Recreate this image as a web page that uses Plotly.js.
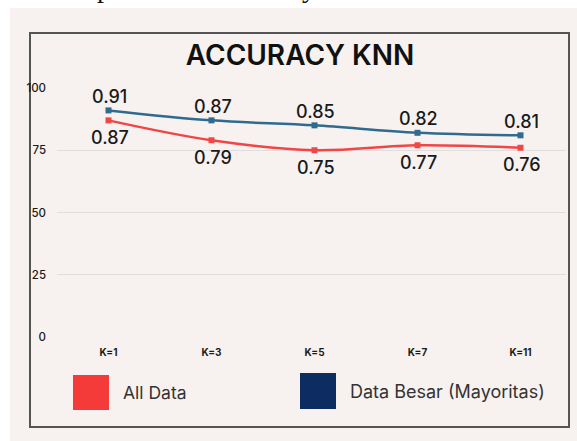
<!DOCTYPE html>
<html>
<head>
<meta charset="utf-8">
<script src="https://cdn.plot.ly/plotly-3.0.1.min.js"></script>
<style>html,body{margin:0;padding:0;background:#fff;}#chart{width:577px;height:441px;}</style>
</head>
<body>
<div id="chart"></div>
<script>
const categories = ["K=1", "K=3", "K=5", "K=7", "K=11"];
const allData = [87, 79, 75, 77, 76];
const dataBesar = [91, 87, 85, 82, 81];
const allDataLabels = ["0.87", "0.79", "0.75", "0.77", "0.76"];
const dataBesarLabels = ["0.91", "0.87", "0.85", "0.82", "0.81"];
const yTicks = [0, 25, 50, 75, 100];
const legendNames = ["All Data", "Data Besar (Mayoritas)"];

const W = 577, H = 441;
const L = 57, R = 566, T = 88, B = 337;
const px = x => (x - L) / (R - L);
const py = y => (B - y) / (B - T);

const FONT = "Inter, 'Open Sans', sans-serif";
const labelFont = {family: FONT, size: 18, color: "#1a1a1a", weight: 500};

const traces = [
  {
    x: categories, y: allData, type: "scatter", mode: "lines+markers",
    line: {color: "#f04648", width: 2.5, shape: "spline", smoothing: 1},
    marker: {symbol: "square", size: 6, color: "#f04648"},
    name: legendNames[0], hoverinfo: "skip", cliponaxis: false
  },
  {
    x: categories, y: dataBesar, type: "scatter", mode: "lines+markers",
    line: {color: "#306b8f", width: 2.5, shape: "spline", smoothing: 1},
    marker: {symbol: "square", size: 6, color: "#306b8f"},
    name: legendNames[1], hoverinfo: "skip", cliponaxis: false
  }
];

const valueAnnotations = [];
categories.forEach((c, i) => {
  valueAnnotations.push({x: c, y: dataBesar[i], xref: "x", yref: "y", text: dataBesarLabels[i],
    showarrow: false, xanchor: "center", yanchor: "middle", yshift: 14, xshift: 1, font: labelFont});
  valueAnnotations.push({x: c, y: allData[i], xref: "x", yref: "y", text: allDataLabels[i],
    showarrow: false, xanchor: "center", yanchor: "middle", yshift: -17, xshift: 1, font: labelFont});
});

const layout = {
  width: W, height: H,
  margin: {l: L, r: W - R, t: T, b: H - B, pad: 0},
  paper_bgcolor: "#ffffff",
  plot_bgcolor: "rgba(0,0,0,0)",
  showlegend: false,
  font: {family: FONT, color: "#222"},
  title: {
    text: "ACCURACY KNN",
    font: {family: "Inter, Roboto, sans-serif", size: 28, color: "#111", weight: 600},
    x: 300 / W, xanchor: "center", y: 1 - 55 / H, yanchor: "middle", xref: "container", yref: "container"
  },
  xaxis: {
    type: "category", range: [-0.5, -0.5 + (R - L) / 103],
    showgrid: false, zeroline: false, showline: false, ticks: "",
    tickfont: {family: FONT, size: 10, color: "#1a1a1a", weight: "bold"},
    ticklabelstandoff: 8, fixedrange: true
  },
  yaxis: {
    range: [0, 100], tickvals: yTicks, ticktext: yTicks.map(String),
    showgrid: true, gridcolor: "#e0dedc", gridwidth: 1, zeroline: false, showline: false, ticks: "",
    tickfont: {family: FONT, size: 11.5, color: "#1a1a1a", weight: 500},
    ticklabelstandoff: 10, fixedrange: true
  },
  shapes: [
    {type: "rect", xref: "paper", yref: "paper", x0: px(10), x1: px(577), y0: py(8), y1: py(441),
     fillcolor: "#f7f2ef", line: {width: 0}, layer: "below"},
    {type: "rect", xref: "paper", yref: "paper", x0: px(30), x1: px(569), y0: py(33), y1: py(427),
     fillcolor: "rgba(0,0,0,0)", line: {color: "#555", width: 2}, layer: "below"},
    {type: "rect", xref: "paper", yref: "paper", x0: px(73), x1: px(109), y0: py(375), y1: py(410),
     fillcolor: "#f53a3a", line: {width: 0}},
    {type: "rect", xref: "paper", yref: "paper", x0: px(300), x1: px(336), y0: py(373), y1: py(409),
     fillcolor: "#0d2d62", line: {width: 0}}
  ],
  annotations: valueAnnotations.concat([
    {xref: "paper", yref: "paper", x: px(121), y: py(392), xanchor: "left", yanchor: "middle",
     text: legendNames[0], showarrow: false, font: {family: FONT, size: 17.5, color: "#333"}},
    {xref: "paper", yref: "paper", x: px(348), y: py(391), xanchor: "left", yanchor: "middle",
     text: legendNames[1], showarrow: false, font: {family: FONT, size: 18, color: "#333"}},
    {xref: "paper", yref: "paper", x: px(104), y: py(5), xanchor: "center", yanchor: "bottom",
     text: "p", showarrow: false, font: {family: "'Liberation Serif', serif", size: 28, color: "#111"}},
    {xref: "paper", yref: "paper", x: px(309), y: py(5), xanchor: "center", yanchor: "bottom",
     text: "y", showarrow: false, font: {family: "'Liberation Serif', serif", size: 28, color: "#111"}}
  ])
};

Plotly.newPlot("chart", traces, layout, {staticPlot: true, displayModeBar: false});
</script>
</body>
</html>
